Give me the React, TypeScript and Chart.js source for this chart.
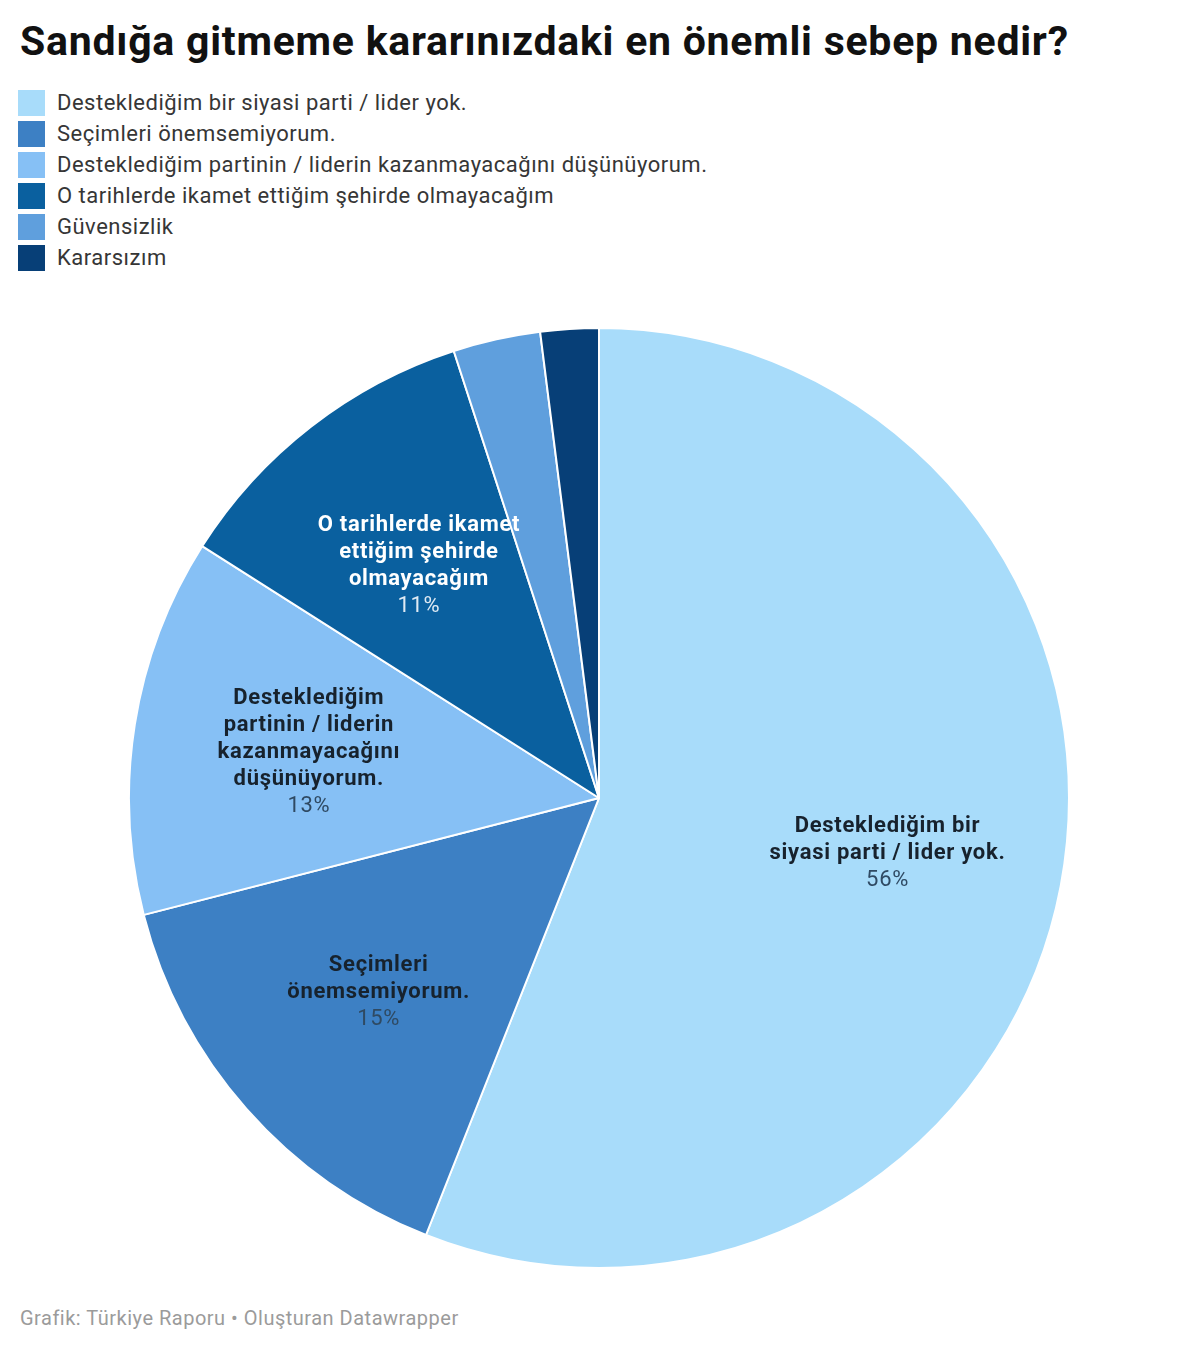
import React, { useEffect, useRef } from "react";
import { Chart, registerables } from "chart.js";

Chart.register(...registerables);

const TITLE = "Sandığa gitmeme kararınızdaki en önemli sebep nedir?";
const FOOTER = "Grafik: Türkiye Raporu • Oluşturan Datawrapper";

const categories = [
  "Desteklediğim bir siyasi parti / lider yok.",
  "Seçimleri önemsemiyorum.",
  "Desteklediğim partinin / liderin kazanmayacağını düşünüyorum.",
  "O tarihlerde ikamet ettiğim şehirde olmayacağım",
  "Güvensizlik",
  "Kararsızım",
];

const values = [56, 15, 13, 11, 3, 2];

const sliceLabelLines: string[][] = [
  ["Desteklediğim bir", "siyasi parti / lider yok."],
  ["Seçimleri", "önemsemiyorum."],
  ["Desteklediğim", "partinin / liderin", "kazanmayacağını", "düşünüyorum."],
  ["O tarihlerde ikamet", "ettiğim şehirde", "olmayacağım"],
  [],
  [],
];

const colors = ["#a8dcfa", "#3d80c4", "#86c0f5", "#0a609f", "#5f9fdd", "#073f77"];
const labelDark = [true, true, true, false, false, false];

const sliceLabelPlugin = {
  id: "sliceLabels",
  afterDatasetsDraw(chart: any) {
    const ctx = chart.ctx;
    const meta = chart.getDatasetMeta(0);
    meta.data.forEach((arc: any, i: number) => {
      const lines = sliceLabelLines[i];
      if (!lines || lines.length === 0) return;
      const { x, y, startAngle, endAngle, outerRadius } = arc.getProps(
        ["x", "y", "startAngle", "endAngle", "outerRadius"],
        true
      );
      const mid = (startAngle + endAngle) / 2;
      const r = outerRadius * 0.625;
      const cx = x + Math.cos(mid) * r;
      const cy = y + Math.sin(mid) * r;
      const all = [...lines, values[i] + "%"];
      const lh = 27;
      const y0 = cy - ((all.length - 1) * lh) / 2;
      ctx.save();
      ctx.textAlign = "center";
      ctx.textBaseline = "middle";
      try {
        (ctx as any).letterSpacing = "0.7px";
      } catch (e) {}
      all.forEach((t, k) => {
        const isPct = k === all.length - 1;
        ctx.font = (isPct ? "400 " : "700 ") + "22px Roboto";
        if (labelDark[i]) {
          ctx.fillStyle = isPct ? "#2f4a63" : "#17222d";
        } else {
          ctx.fillStyle = isPct ? "#dfeaf4" : "#ffffff";
        }
        ctx.fillText(t, cx, y0 + k * lh);
      });
      ctx.restore();
    });
  },
};

export default function App() {
  const ref = useRef<HTMLCanvasElement | null>(null);

  useEffect(() => {
    document.body.style.margin = "0";
    if (!ref.current) return;
    const chart = new Chart(ref.current, {
      type: "pie",
      data: {
        labels: categories,
        datasets: [
          {
            data: values,
            backgroundColor: colors,
            borderColor: "#ffffff",
            borderWidth: 2,
          },
        ],
      },
      options: {
        animation: false,
        responsive: false,
        maintainAspectRatio: false,
        layout: { padding: 0 },
        plugins: {
          legend: { display: false },
          tooltip: { enabled: false },
          title: { display: false },
        },
      },
      plugins: [sliceLabelPlugin],
    });
    return () => chart.destroy();
  }, []);

  return (
    <div
      style={{
        position: "relative",
        width: 1200,
        height: 1352,
        background: "#ffffff",
        fontFamily: "Roboto, sans-serif",
        overflow: "hidden",
      }}
    >
      <div
        style={{
          position: "absolute",
          left: 20,
          top: 17,
          fontSize: 41,
          fontWeight: 700,
          letterSpacing: "0.75px",
          color: "#111111",
          lineHeight: "48px",
          whiteSpace: "nowrap",
        }}
      >
        {TITLE}
      </div>
      <div style={{ position: "absolute", left: 18, top: 87 }}>
        {categories.map((c, i) => (
          <div
            key={c}
            style={{ display: "flex", alignItems: "center", height: 31 }}
          >
            <div
              style={{
                width: 27,
                height: 26,
                background: colors[i],
                marginRight: 12,
              }}
            />
            <span
              style={{
                fontSize: 22,
                letterSpacing: "0.5px",
                color: "#363636",
                whiteSpace: "nowrap",
              }}
            >
              {c}
            </span>
          </div>
        ))}
      </div>
      <canvas
        ref={ref}
        width={942}
        height={942}
        style={{ position: "absolute", left: 128, top: 327, width: 942, height: 942 }}
      />
      <div
        style={{
          position: "absolute",
          left: 20,
          top: 1306,
          fontSize: 20,
          letterSpacing: "0.5px",
          color: "#9b9b9b",
          whiteSpace: "nowrap",
        }}
      >
        {FOOTER}
      </div>
    </div>
  );
}
